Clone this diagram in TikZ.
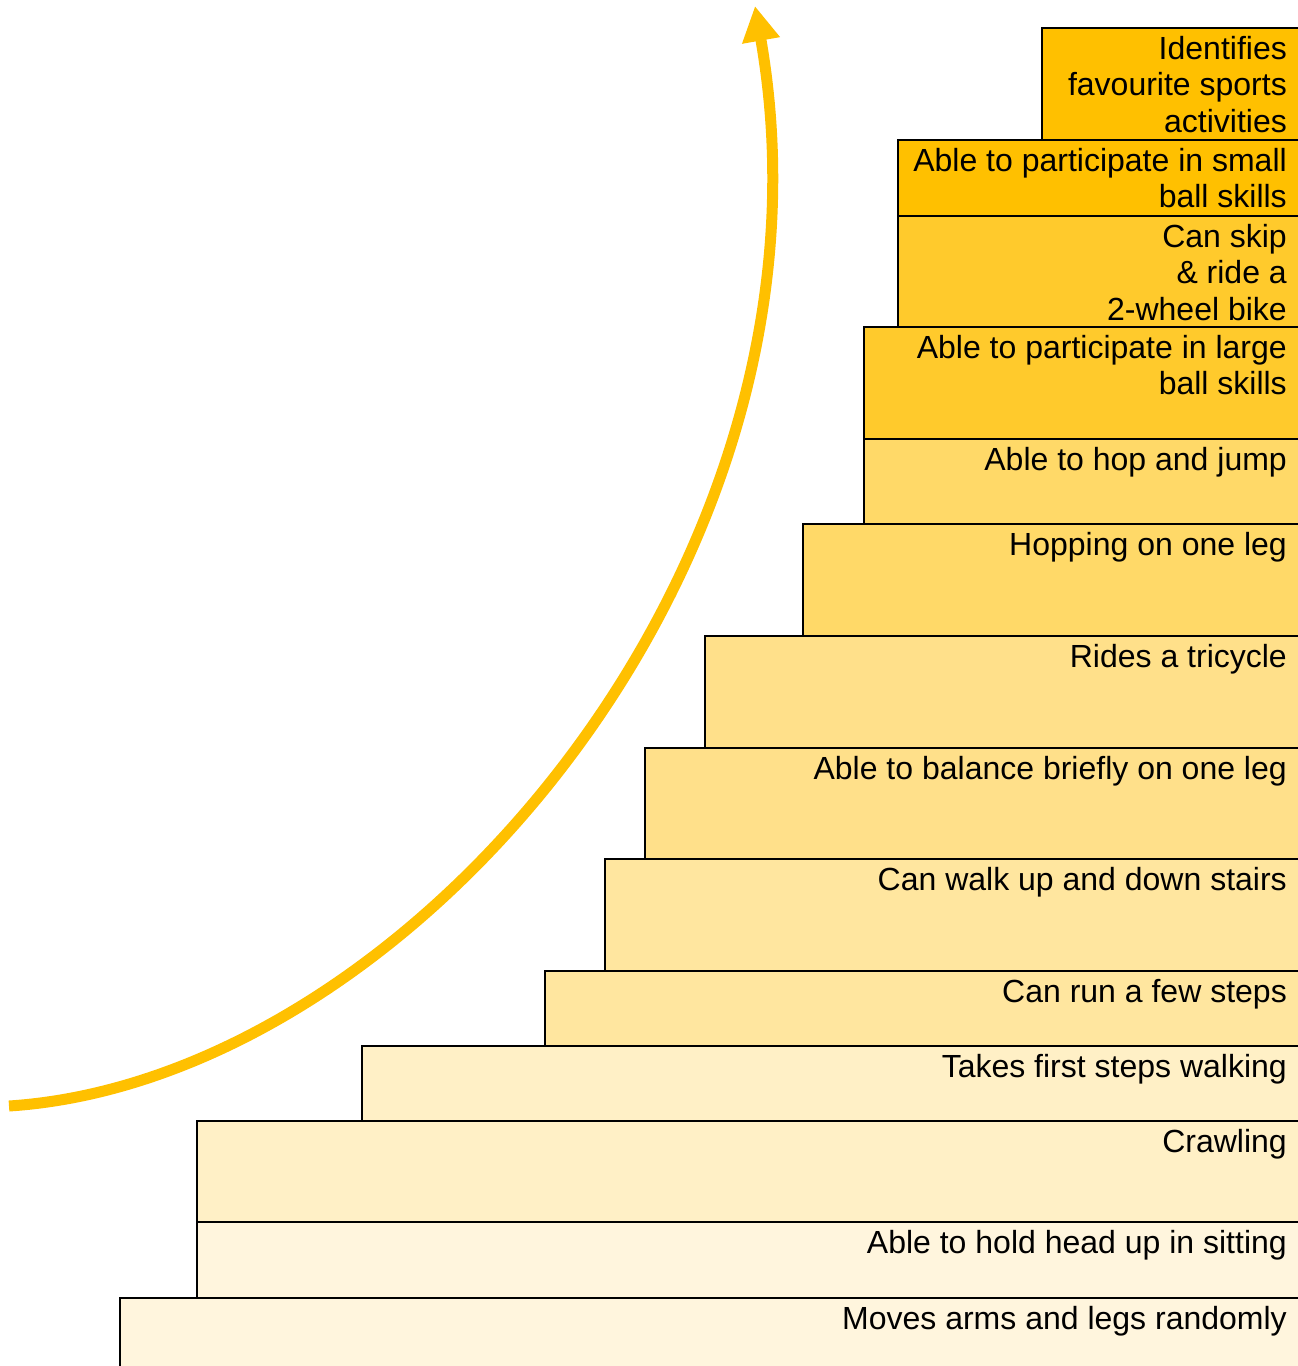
\documentclass[tikz,border=0pt]{standalone}
\usepackage{fontspec}
\setmainfont{Liberation Sans}
\usetikzlibrary{arrows.meta}
\definecolor{cA}{HTML}{FFC000}
\definecolor{cB}{HTML}{FFCA2C}
\definecolor{cC}{HTML}{FFD968}
\definecolor{cD}{HTML}{FFE08A}
\definecolor{cE}{HTML}{FFE69F}
\definecolor{cF}{HTML}{FFF0C6}
\definecolor{cG}{HTML}{FFF5DD}
\tikzset{
  stepbox/.style={draw=black,line width=2.8pt},
  steptext/.style={anchor=north east,inner sep=0pt,align=right,
    font=\fontsize{32}{36.6}\selectfont,text=black},
  growth/.style={draw=cA,line width=11pt,
    -{Triangle[length=35pt,width=36pt]}}
}
\newcommand{\stepitem}[6]{%
  % #1 name, #2 left, #3 top, #4 bottom, #5 colour, #6 text
  \path[fill=#5] (#2,#3) rectangle (1310,#4);
  \node[steptext] (#1) at (1287,#3+8) {#6};
}
\begin{document}
\begin{tikzpicture}[x=1pt,y=-1pt]
\useasboundingbox (0,0) rectangle (1298,1366);
\clip (0,0) rectangle (1298,1366);
% fills and texts
\stepitem{s14}{120}{1298}{1380}{cG}{Moves arms and legs randomly}
\stepitem{s13}{197}{1222}{1298}{cG}{Able to hold head up in sitting}
\stepitem{s12}{197}{1121}{1222}{cF}{Crawling}
\stepitem{s11}{362}{1046}{1121}{cF}{Takes first steps walking}
\stepitem{s10}{545}{971}{1046}{cE}{Can run a few steps}
\stepitem{s9}{605}{859}{971}{cE}{Can walk up and down stairs}
\stepitem{s8}{645}{748}{859}{cD}{Able to balance briefly on one leg}
\stepitem{s7}{705}{636}{748}{cD}{Rides a tricycle}
\stepitem{s6}{803}{524}{636}{cC}{Hopping on one leg}
\stepitem{s5}{864}{439}{524}{cC}{Able to hop and jump}
\stepitem{s4}{864}{327}{439}{cB}{Able to participate in large\\ball skills}
\stepitem{s3}{898}{216}{327}{cB}{Can skip\\\& ride a\\2-wheel bike}
\stepitem{s2}{898}{140}{216}{cA}{Able to participate in small\\ball skills}
\stepitem{s1}{1042}{28}{140}{cA}{Identifies\\favourite sports\\activities}
% outlines
\foreach \l/\t/\b in {120/1298/1380,197/1222/1298,197/1121/1222,362/1046/1121,
  545/971/1046,605/859/971,645/748/859,705/636/748,803/524/636,864/439/524,
  864/327/439,898/216/327,898/140/216,1042/28/140}
  \draw[stepbox] (\l,\t) rectangle (1310,\b);
% growth arrow
\coordinate (astart) at (9,1106);
\coordinate (aend) at (755,6);
\draw[growth] (astart) .. controls (409,1080) and (852,560) .. (aend);
\end{tikzpicture}
\end{document}
